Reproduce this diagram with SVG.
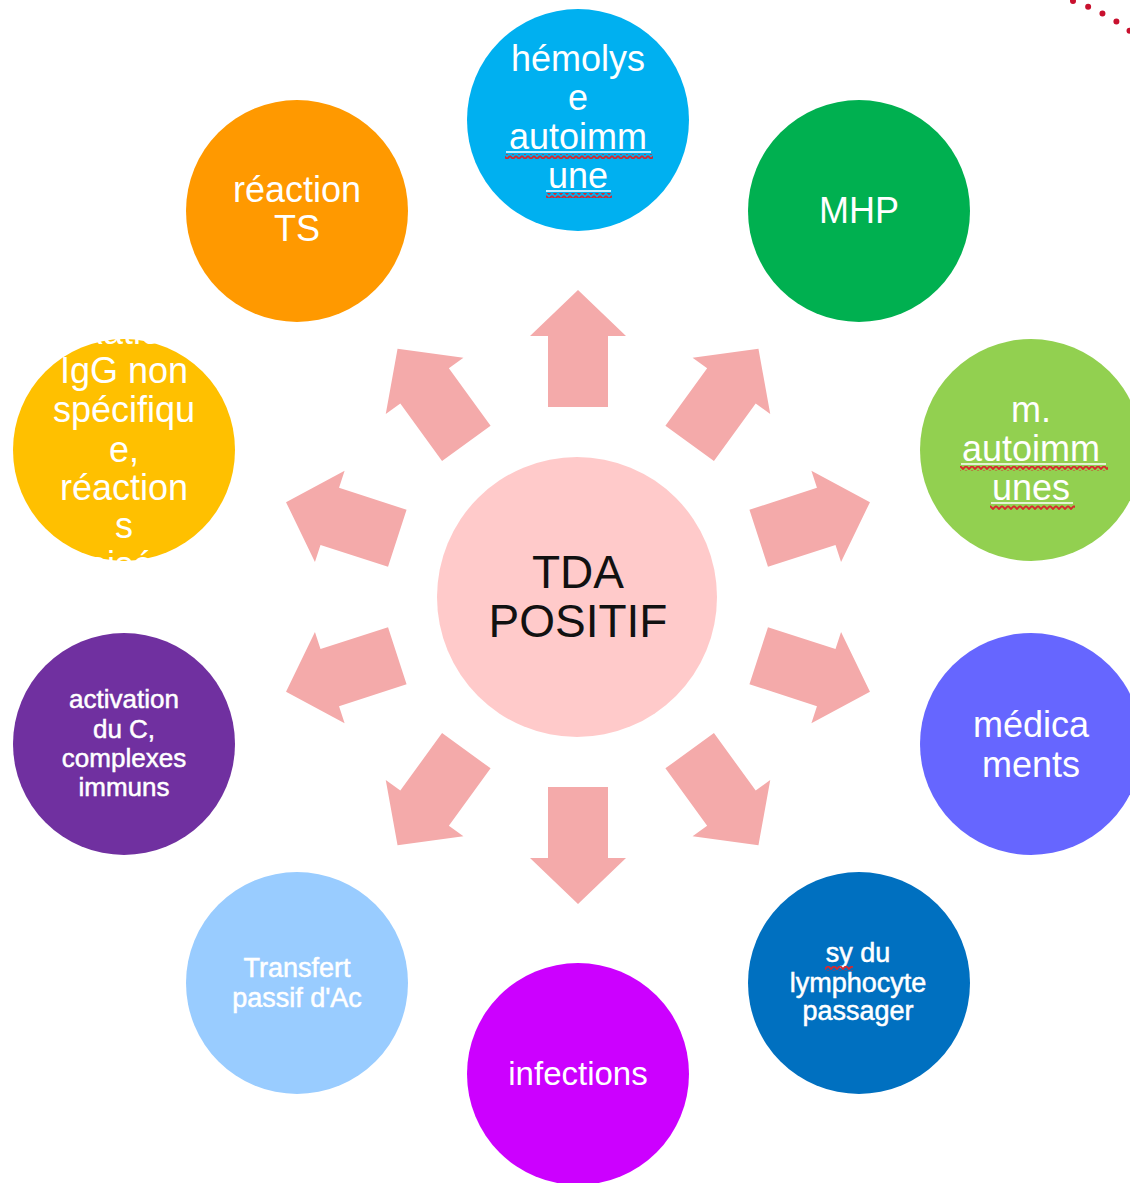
<svg xmlns="http://www.w3.org/2000/svg" width="1130" height="1183" viewBox="0 0 1130 1183">
<defs>
<style>
.t{font-family:"Liberation Sans",Arial,sans-serif;fill:#fff;text-anchor:middle}
.b{font-size:36px}
.s{font-size:27px;stroke:#fff;stroke-width:0.5}
.a{font-size:26px;stroke:#fff;stroke-width:0.5}
.c{font-family:"Liberation Sans",Arial,sans-serif;fill:#111;text-anchor:middle;font-size:46px}
.arrow{fill:#F4AAAA}
.ul{stroke:#fff;stroke-width:1.5}
.sq{fill:url(#zig)}
</style>
<pattern id="zig" patternUnits="userSpaceOnUse" width="6" height="5">
<path d="M0 1 L3 4 L6 1" fill="none" stroke="#D8282E" stroke-width="1.8"/>
</pattern>
<polygon id="arr" points="190,-30 261,-30 261,-48 307,0 261,48 261,30 190,30"/>
</defs>
<rect width="1130" height="1183" fill="#fff"/>
<path d="M1073 1 Q1105 12 1130 31" fill="none" stroke="#C8102E" stroke-width="6" stroke-linecap="round" stroke-dasharray="0 16"/>
<g id="connectors">
<use href="#arr" class="arrow" transform="translate(578,597) rotate(-90)"/>
<use href="#arr" class="arrow" transform="translate(578,597) rotate(-54)"/>
<use href="#arr" class="arrow" transform="translate(578,597) rotate(-18)"/>
<use href="#arr" class="arrow" transform="translate(578,597) rotate(18)"/>
<use href="#arr" class="arrow" transform="translate(578,597) rotate(54)"/>
<use href="#arr" class="arrow" transform="translate(578,597) rotate(90)"/>
<use href="#arr" class="arrow" transform="translate(578,597) rotate(126)"/>
<use href="#arr" class="arrow" transform="translate(578,597) rotate(162)"/>
<use href="#arr" class="arrow" transform="translate(578,597) rotate(198)"/>
<use href="#arr" class="arrow" transform="translate(578,597) rotate(234)"/>
</g>
<g id="center">
<circle cx="577" cy="597" r="140" fill="#FFCACA"/>
<text class="c" x="578" y="588">TDA</text>
<text class="c" x="578" y="637">POSITIF</text>
</g>
<g id="hemolyse">
<circle cx="578" cy="120" r="111" fill="#00B0F0"/>
<text class="t b" x="578" y="71">hémolys</text>
<text class="t b" x="578" y="110">e</text>
<text class="t b" x="578" y="149">autoimm</text>
<text class="t b" x="578" y="188">une</text>
<line class="ul" x1="506" y1="152" x2="651" y2="152"/>
<line class="ul" x1="546" y1="191" x2="611" y2="191"/>
<rect class="sq" x="505" y="154" width="148" height="5"/>
<rect class="sq" x="546" y="193" width="66" height="5"/>
</g>
<g id="mhp">
<circle cx="859" cy="211" r="111" fill="#00B050"/>
<text class="t b" x="859" y="223">MHP</text>
</g>
<g id="m-autoimmunes">
<circle cx="1031" cy="450" r="111" fill="#92D050"/>
<text class="t b" x="1031" y="422">m.</text>
<text class="t b" x="1031" y="461">autoimm</text>
<text class="t b" x="1031" y="500">unes</text>
<line class="ul" x1="961" y1="464" x2="1106" y2="464"/>
<line class="ul" x1="991" y1="503" x2="1073" y2="503"/>
<rect class="sq" x="960" y="466" width="148" height="5"/>
<rect class="sq" x="990" y="505" width="85" height="5"/>
</g>
<g id="medicaments">
<circle cx="1031" cy="744" r="111" fill="#6666FF"/>
<text class="t b" x="1031" y="737">médica</text>
<text class="t b" x="1031" y="777">ments</text>
</g>
<g id="lymphocyte">
<circle cx="859" cy="983" r="111" fill="#0070C0"/>
<text class="t s" x="858" y="962">sy du</text>
<text class="t s" x="858" y="992">lymphocyte</text>
<text class="t s" x="858" y="1020">passager</text>
<rect class="sq" x="825" y="966" width="28" height="5"/>
</g>
<g id="infections">
<circle cx="578" cy="1074" r="111" fill="#CC00FF"/>
<text class="t" style="font-size:33px" x="578" y="1085">infections</text>
</g>
<g id="transfert">
<circle cx="297" cy="983" r="111" fill="#99CCFF"/>
<text class="t s" x="297" y="977">Transfert</text>
<text class="t s" x="297" y="1007">passif d'Ac</text>
</g>
<g id="activation">
<circle cx="124" cy="744" r="111" fill="#7030A0"/>
<text class="t a" x="124" y="708">activation</text>
<text class="t a" x="124" y="738">du C,</text>
<text class="t a" x="124" y="767">complexes</text>
<text class="t a" x="124" y="796">immuns</text>
</g>
<g id="igg">
<circle cx="124" cy="450" r="111" fill="#FFC000"/>
<text class="t b" x="124" y="344">fixation</text>
<text class="t b" x="124" y="383">IgG non</text>
<text class="t b" x="124" y="422">spécifiqu</text>
<text class="t b" x="124" y="462">e,</text>
<text class="t b" x="124" y="500">réaction</text>
<text class="t b" x="124" y="538">s</text>
<text class="t b" x="124" y="577">croisées</text>
</g>
<g id="reaction-ts">
<circle cx="297" cy="211" r="111" fill="#FF9900"/>
<text class="t b" x="297" y="202">réaction</text>
<text class="t b" x="297" y="241">TS</text>
</g>
</svg>
